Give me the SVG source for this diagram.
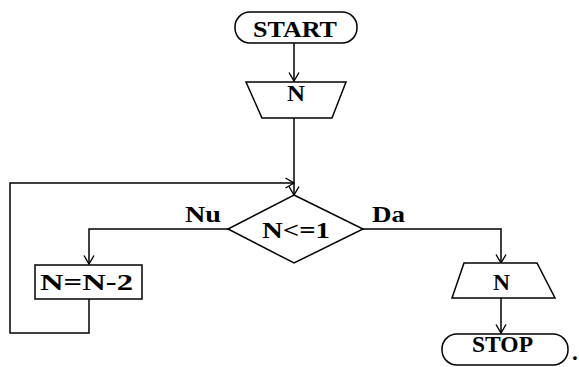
<svg xmlns="http://www.w3.org/2000/svg" width="579" height="367" viewBox="0 0 579 367">
<defs>
<marker id="ah" viewBox="0 0 10 12" refX="9.5" refY="6" markerWidth="10" markerHeight="12" markerUnits="userSpaceOnUse" orient="auto">
<path d="M1,1 L9.5,6 L1,11" fill="none" stroke="#000" stroke-width="1.4"/>
</marker>
</defs>
<style>
.s{fill:#fff;stroke:#000;stroke-width:1.5}
.c{fill:none;stroke:#000;stroke-width:1.5}
.t{font-family:"Liberation Serif","Times New Roman",serif;font-weight:bold;font-size:23px;fill:#000}
</style>
<rect width="579" height="367" fill="#fff"/>
<g id="connectors">
<path class="c" d="M294,43 V81" marker-end="url(#ah)"/>
<path class="c" d="M294,118 V195" marker-end="url(#ah)"/>
<path class="c" d="M228,229 H89 V264" marker-end="url(#ah)"/>
<path class="c" d="M363,229 H501 V263" marker-end="url(#ah)"/>
<path class="c" d="M501,298 V333" marker-end="url(#ah)"/>
<path class="c" d="M89,299 V333 H10 V183 H294" marker-end="url(#ah)"/>
<text class="t" x="185" y="222" textLength="36" lengthAdjust="spacingAndGlyphs">Nu</text>
<text class="t" x="372" y="222" textLength="33" lengthAdjust="spacingAndGlyphs">Da</text>
</g>
<g id="start">
<rect class="s" x="235" y="12" width="122" height="31" rx="15" ry="15"/>
<text class="t" x="253" y="37" textLength="84" lengthAdjust="spacingAndGlyphs">START</text>
</g>
<g id="inputN">
<polygon class="s" points="246,82 346,82 332,118 262,118"/>
<text class="t" x="287" y="101" textLength="18" lengthAdjust="spacingAndGlyphs">N</text>
</g>
<g id="decision">
<polygon class="s" points="294,195 363,229 294,263 228,229"/>
<text class="t" x="262" y="238" textLength="68" lengthAdjust="spacingAndGlyphs">N&lt;=1</text>
</g>
<g id="assign">
<rect class="s" x="35" y="265" width="107" height="34"/>
<text class="t" x="40" y="290" textLength="93" lengthAdjust="spacingAndGlyphs">N=N-2</text>
</g>
<g id="outputN">
<polygon class="s" points="464,263 537,263 555,298 452,298"/>
<text class="t" x="493" y="290" textLength="17" lengthAdjust="spacingAndGlyphs">N</text>
</g>
<g id="stop">
<rect class="s" x="442" y="334" width="126" height="31" rx="15" ry="15"/>
<text class="t" x="472" y="352" textLength="61" lengthAdjust="spacingAndGlyphs">STOP</text>
<text class="t" x="572" y="360" font-size="18">.</text>
</g>
</svg>
